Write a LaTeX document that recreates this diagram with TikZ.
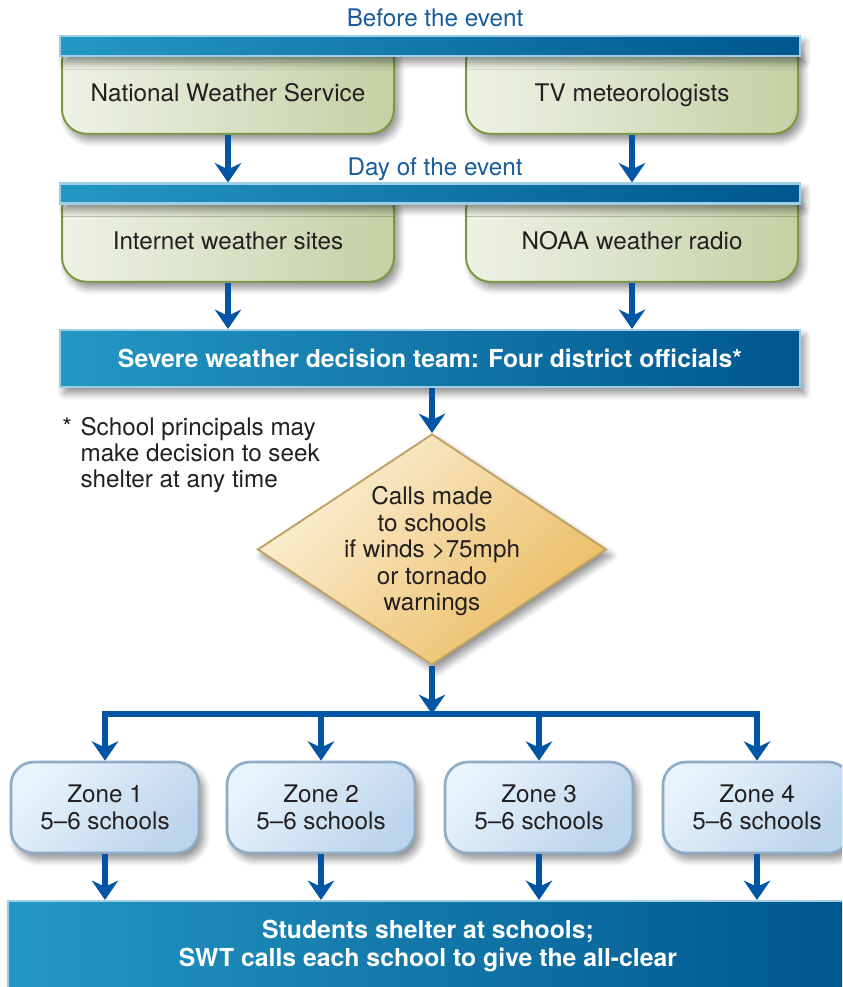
\documentclass[tikz,border=0pt]{standalone}
\usepackage{fontspec}
\setmainfont{TeX Gyre Heros}
\usetikzlibrary{positioning,arrows.meta,shapes.geometric,shadows.blur}

\definecolor{arrowblue}{RGB}{0,86,164}
\definecolor{labelblue}{RGB}{24,92,156}
\definecolor{barleft}{RGB}{36,152,196}
\definecolor{barright}{RGB}{0,86,142}
\definecolor{barline}{RGB}{160,205,230}
\definecolor{greenleft}{RGB}{238,242,230}
\definecolor{greenright}{RGB}{196,208,164}
\definecolor{greenline}{RGB}{122,152,62}
\definecolor{zonelight}{RGB}{232,244,252}
\definecolor{zonedark}{RGB}{188,212,236}
\definecolor{zoneline}{RGB}{142,172,198}
\definecolor{callslight}{RGB}{251,240,214}
\definecolor{callsdark}{RGB}{236,188,98}
\definecolor{callsline}{RGB}{192,162,102}
\definecolor{ink}{RGB}{35,31,32}

\begin{document}
\begin{tikzpicture}[
    x=0.02cm, y=-0.02cm,
    every node/.style={font=\fontsize{13.8}{15}\selectfont, text=ink},
    soft/.style={blur shadow={shadow xshift=2.5pt, shadow yshift=-3.5pt, shadow blur steps=8, shadow blur radius=4pt, shadow opacity=45}},
    bar/.style={draw=barline, line width=1.2pt, left color=barleft, right color=barright, minimum width=14.8cm, minimum height=0.4cm, inner sep=0pt, soft},
    phase/.style={text=labelblue, anchor=base},
    source/.style={draw=greenline, line width=1.1pt, rounded corners=14pt, left color=greenleft, right color=greenright, minimum width=6.64cm, text height=36.6pt, text depth=18.5pt, inner ysep=0pt, anchor=north, soft},
    team/.style={bar, minimum height=1.14cm, align=center, text=white, font=\fontsize{14.1}{16}\selectfont\bfseries},
    decision/.style={diamond, draw=callsline, line width=1.1pt, top color=callslight, bottom color=callsdark, shading angle=45, minimum width=6.98cm, minimum height=4.62cm, inner sep=0pt, soft},
    zone/.style={draw=zoneline, line width=1.5pt, rounded corners=13pt, top color=zonelight, bottom color=zonedark, shading angle=45, minimum width=3.76cm, minimum height=1.82cm, align=center, soft},
    arr/.style={-{Stealth[length=11pt, width=15pt, inset=3.5pt]}, line width=3pt, draw=arrowblue}
]
\clip (0,0) rectangle (842,987);

% sources, before and on the day
\node[source] (nws) at (228,36) {National Weather Service};
\node[source] (tv) at (632,36) {TV meteorologists};
\node[bar] (before) at (430,46) {};
\node[phase] (beforelabel) at (435,27) {Before the event};

\node[source] (web) at (228,184) {Internet weather sites};
\node[source] (noaa) at (632,184) {NOAA weather radio};
\node[bar] (day) at (430,193.5) {};
\node[phase] (daylabel) at (435,175) {Day of the event};

\node[team] (team) at (430,358.5) {Severe weather decision team: Four district officials*};

\node[anchor=base west, inner sep=0pt] (note) at (62,435)
{\begin{tabular}[t]{@{}l@{\hspace{5pt}}l@{}}*&School principals may\\&make decision to seek\\&shelter at any time\end{tabular}};

\node[decision, label={[align=center, yshift=-1pt]center:Calls made\\to schools\\if winds >75mph\\or tornado\\warnings}] (calls) at (432,549.5) {};
\coordinate (bus) at (432,714);

\foreach \z/\x in {1/105, 2/321, 3/539, 4/757}
    \node[zone] (zone\z) at (\x,807.5) {Zone \z\\5–6 schools};

\node[team, minimum width=16.8cm, minimum height=1.8cm] (students) at (428,946)
{Students shelter at schools;\\SWT calls each school to give the all-clear};

\draw[arr] (nws.south) -- (nws.south |- day.north);
\draw[arr] (tv.south) -- (tv.south |- day.north);
\draw[arr] (web.south) -- (web.south |- team.north);
\draw[arr] (noaa.south) -- (noaa.south |- team.north);
\draw[arr] (calls.north |- team.south) -- (calls.north);
\draw[arr] (calls.south) -- (bus);
\foreach \z in {1,...,4} {
    \draw[arr] (bus) -| (zone\z.north);
    \draw[arr] (zone\z.south) -- (zone\z.south |- students.north);
}
\end{tikzpicture}
\end{document}
